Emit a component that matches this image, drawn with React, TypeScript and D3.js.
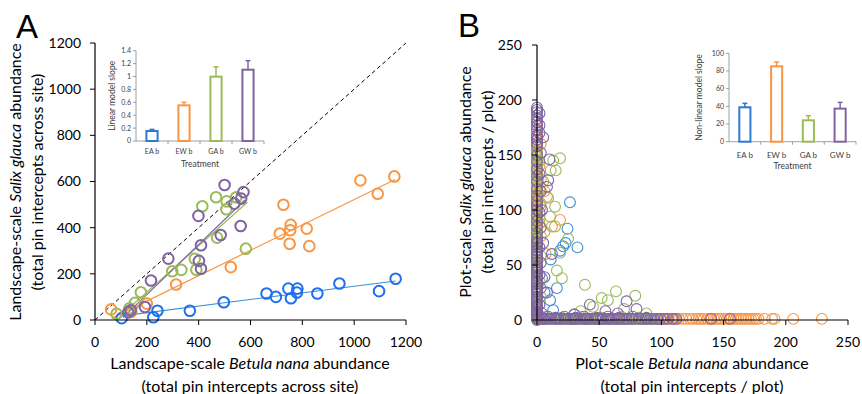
import React from 'react';
import * as d3 from 'd3';

const FONT = "Lato, 'Open Sans', sans-serif";

// colours per treatment
const COLORS: Record<string, string> = { EA: '#1f6fef', EW: '#f79646', GA: '#9bbb59', GW: '#8064a2' };
const COLORS_B: Record<string, string> = { EA: '#3d8fd6', EW: '#f79646', GA: '#9bbb59', GW: '#8064a2' };

const treatments = ['EA b', 'EW b', 'GA b', 'GW b'];

// ---- panel A: landscape scale (Betula, Salix) ----
const eaA = [[103, 8], [225, 12], [241, 40], [366, 40], [497, 77], [662, 115], [698, 100], [746, 136], [756, 94], [781, 136], [779, 119], [858, 115], [943, 158], [1096, 125], [1160, 179]];
const ewA = [[62, 46], [140, 36], [200, 71], [313, 154], [524, 229], [713, 374], [727, 499], [753, 389], [755, 412], [751, 330], [817, 396], [827, 320], [1024, 605], [1091, 547], [1155, 622]];
const gaA = [[83, 27], [133, 51], [154, 74], [177, 120], [298, 211], [333, 217], [385, 265], [391, 218], [414, 493], [467, 532], [471, 357], [508, 514], [507, 480], [545, 532], [582, 309]];
const gwA = [[128, 33], [138, 42], [193, 56], [216, 171], [283, 266], [399, 451], [401, 256], [409, 222], [409, 324], [485, 368], [500, 585], [538, 504], [564, 526], [562, 407], [573, 554]];

// fitted lines (start, end)
const eaFit = [[96, 17], [1160, 169]];
const ewFit = [[64, 7], [1158, 609]];
const gaFit = [[95, 15], [588, 510]];
const gwFit = [[108, 10], [578, 520]];

const aTicks = [0, 200, 400, 600, 800, 1000, 1200];

// inset A: linear model slope
const linSlope = [0.155, 0.553, 0.997, 1.105];
const linErr = [0.025, 0.047, 0.153, 0.14];
const linTicks = ['0', '0.2', '0.4', '0.6', '0.8', '1', '1.2', '1.4'];

// ---- panel B: plot scale ----
// points sitting on the y axis (x = 0): Salix values
const eaColB = [70, 62, 48, 41, 34, 27, 21, 12, 5, 2];
const ewColB = [180, 176, 172, 168, 163, 160, 154, 148, 145, 143, 139, 136, 134, 131, 129, 126, 124, 121, 119, 117, 115, 112, 110, 107, 105, 102, 99, 96, 94, 92, 90, 88, 86, 84, 82, 79, 77, 74, 71, 67, 64, 60, 57, 53, 49, 45, 41, 37, 33, 29, 25, 21, 17, 13, 10, 7, 4];
const gaColB = [153, 151, 149, 146, 144, 141, 138, 134, 131, 128, 125, 121, 117, 113, 109, 105, 101, 97, 94, 90, 86, 83, 80, 77, 75, 72, 70, 67, 64, 60, 57, 53, 50, 47, 44, 40, 37, 33, 30, 26, 23, 20, 17, 14, 11, 8, 6, 3, 1];
const gwColB = [193, 191, 189, 186, 183, 180, 177, 173, 168, 166, 164, 161, 158, 150, 144, 137, 131, 126, 119, 113, 108, 104, 100, 95, 90, 85, 79, 74, 71, 69, 66, 63, 60, 58, 55, 52, 49, 47, 45, 43, 40, 38, 35, 33, 30, 28, 26, 24, 21, 19, 17, 15, 13, 11, 9, 7, 5, 3, 1, 0];
// just right of the y axis: [Betula, Salix]
const gwNearB = [[2, 188], [2, 170], [3, 152], [2, 133], [3, 117], [2, 98], [3, 84], [2, 66], [3, 52], [2, 41], [3, 29], [2, 14], [4, 6]];
const ewNearB = [[2, 140], [3, 128], [2, 118], [3, 103], [2, 92], [3, 76]];
const gaNearB = [[2, 144], [3, 106], [2, 88], [3, 58], [2, 35], [3, 21]];

// points sitting on the x axis (y = 0): Betula values
const eaRowB = [8, 19, 27, 39, 52, 64, 77, 86, 91, 97, 103, 110];
const ewRowB = [5, 15, 33, 47, 71, 82, 88, 93, 96, 100, 103, 106, 108, 111, 114, 117, 120, 123, 125, 128, 130, 132, 134, 137, 139, 142, 144, 146, 148, 151, 153, 156, 158, 160, 162, 164, 166, 168, 170, 172, 174, 176, 178, 183, 189, 191, 206, 229];
const gaRowB = [2, 6, 11, 15, 18, 22, 24, 28, 31, 34, 37, 41, 44, 47, 50, 53, 56, 59, 61, 64, 67, 70, 73, 76, 79, 83, 86, 89, 92, 96];
const gwRowB = [1, 3, 5, 6, 8, 10, 12, 14, 16, 17, 19, 21, 23, 25, 27, 29, 30, 32, 34, 36, 38, 40, 41, 43, 45, 47, 49, 51, 53, 55, 57, 58, 60, 62, 64, 66, 68, 70, 72, 74, 76, 79, 82, 84, 87, 89, 92, 94, 97, 99, 102, 105, 109, 112, 140, 155];
// just above the x axis: [Betula, Salix]
const gwLowB = [[4, 2], [9, 3], [15, 2], [22, 3], [31, 2], [38, 3], [48, 2], [57, 3], [66, 2], [77, 3], [88, 2]];
const gaLowB = [[7, 3], [20, 2], [35, 3], [52, 2], [68, 3], [82, 2]];

// off-axis points
const eaScatB = [[26.5, 107], [24.5, 83], [32.5, 66], [21, 67], [23, 70], [18.5, 63], [11, 55], [16, 29], [10.5, 18], [13, 9], [4, 38], [6, 25], [30, 5]];
const ewScatB = [[18.5, 91], [9, 111], [12, 85], [3, 160], [6, 117], [7, 60]];
const gaScatB = [[13, 145], [18.5, 147], [11, 136], [15, 136], [5, 126], [14.5, 103], [10.5, 94], [14.5, 85], [25, 74], [18.5, 61], [16, 45], [20, 38], [38.5, 32], [63.5, 26], [52, 20], [79, 22], [45, 12], [57, 18], [70, 10], [35, 8], [88, 6], [8, 112], [6, 80]];
const gwScatB = [[2, 177], [5, 166], [10, 146], [8, 121], [5, 70], [6, 39], [72, 17], [80, 10], [42.5, 14], [9, 127], [4, 100], [55, 8], [65, 6], [30, 5], [12, 60], [8, 25]];

const bTicks = [0, 50, 100, 150, 200, 250];

// inset B: non-linear model slope
const nlSlope = [38.9, 85.3, 24.2, 37.4];
const nlErr = [4.5, 4.9, 5.2, 7.1];
const nlTicks = [0, 20, 40, 60, 80, 100];

const keys = ['EA', 'EW', 'GA', 'GW'];

function Inset({ x0, x1, y0, y1, max, values, errors, ticks, label, palette, catSize, labelY, titleY, labelX }: any) {
  const x = d3.scaleBand().domain(treatments).range([x0, x1]).paddingInner(0.65).paddingOuter(0.325);
  const y = d3.scaleLinear().domain([0, max]).range([y0, y1]);
  return (
    <g fontFamily={FONT} fill="#404040">
      <line x1={x0} x2={x0} y1={y0} y2={y1} stroke="#888" strokeWidth={0.8} />
      <line x1={x0} x2={x1} y1={y0} y2={y0} stroke="#888" strokeWidth={0.8} />
      {ticks.map((t: any) => (
        <g key={t}>
          <line x1={x0 - 3} x2={x0} y1={y(+t)} y2={y(+t)} stroke="#888" strokeWidth={0.8} />
          <text x={x0 - 5} y={y(+t)} dy="0.35em" textAnchor="end" fontSize={7}>{t}</text>
        </g>
      ))}
      {treatments.map((t, i) => (
        <line key={t} x1={x0 + (x.step() * (i + 1))} x2={x0 + (x.step() * (i + 1))} y1={y0} y2={y0 + 3} stroke="#888" strokeWidth={0.8} />
      ))}
      {treatments.map((t, i) => {
        const cx = (x(t) as number) + x.bandwidth() / 2;
        const c = palette[keys[i]];
        return (
          <g key={t}>
            <line x1={cx} x2={cx} y1={y(values[i])} y2={y(values[i] + errors[i])} stroke={c} strokeWidth={1.5} />
            <line x1={cx - 2.5} x2={cx + 2.5} y1={y(values[i] + errors[i])} y2={y(values[i] + errors[i])} stroke={c} strokeWidth={1.5} />
            <rect x={x(t)} y={y(values[i])} width={x.bandwidth()} height={y0 - y(values[i])} fill="#fff" stroke={c} strokeWidth={2} />
            <text x={cx} y={labelY} dy="0.35em" textAnchor="middle" fontSize={catSize}>{t}</text>
          </g>
        );
      })}
      <text x={(x0 + x1) / 2} y={titleY} dy="0.35em" textAnchor="middle" fontSize={8.5}>Treatment</text>
      <text transform={`translate(${labelX},${(y0 + y1) / 2}) rotate(-90)`} dy="0.35em" textAnchor="middle" fontSize={8.5}>{label}</text>
    </g>
  );
}

export default function App() {
  // panel A scales
  const xA = d3.scaleLinear().domain([0, 1200]).range([95, 406]);
  const yA = d3.scaleLinear().domain([0, 1200]).range([320, 43]);
  // panel B scales
  const xB = d3.scaleLinear().domain([0, 250]).range([537, 848]);
  const yB = d3.scaleLinear().domain([0, 250]).range([320, 45]);

  const seriesA = [
    { k: 'EA', pts: eaA, fit: eaFit, lineColor: '#3a8fd0' },
    { k: 'EW', pts: ewA, fit: ewFit, lineColor: COLORS.EW },
    { k: 'GA', pts: gaA, fit: gaFit, lineColor: COLORS.GA },
    { k: 'GW', pts: gwA, fit: gwFit, lineColor: COLORS.GW },
  ];
  const seriesB = [
    { k: 'EA', col: eaColB, row: eaRowB, scat: eaScatB },
    { k: 'EW', col: ewColB, row: ewRowB, scat: [...ewScatB, ...ewNearB] },
    { k: 'GA', col: gaColB, row: gaRowB, scat: [...gaScatB, ...gaNearB, ...gaLowB] },
    { k: 'GW', col: gwColB, row: gwRowB, scat: [...gwScatB, ...gwNearB, ...gwLowB] },
  ];
  const line = d3.line<number[]>().x(d => xA(d[0])).y(d => yA(d[1]));

  return (
    <svg width={862} height={394} style={{ display: 'block', position: 'absolute', left: 0, top: 0, background: '#fff' }} fontFamily={FONT}>
      {/* ---------- Panel A ---------- */}
      <text x={16} y={38} fontSize={33} fontFamily="'Liberation Sans', Arial, sans-serif" fill="#000">A</text>
      <line x1={xA(0)} y1={yA(0)} x2={xA(1200)} y2={yA(1200)} stroke="#000" strokeWidth={1} strokeDasharray="4,3" />
      {seriesA.map(s => (
        <path key={s.k} d={line(s.fit) || ''} stroke={s.lineColor} strokeWidth={1.2} fill="none" />
      ))}
      {seriesA.map(s => (
        <g key={s.k + 'p'}>
          {s.pts.map((p, i) => (
            <circle key={i} cx={xA(p[0])} cy={yA(p[1])} r={5.3} fill="none" stroke={COLORS[s.k]} strokeWidth={2} />
          ))}
        </g>
      ))}
      <line x1={xA(0)} x2={xA(1200)} y1={yA(0)} y2={yA(0)} stroke="#000" strokeWidth={1.2} />
      <line x1={xA(0)} x2={xA(0)} y1={yA(0)} y2={yA(1200)} stroke="#000" strokeWidth={1.2} />
      {aTicks.map(t => (
        <g key={'ax' + t}>
          <line x1={xA(t)} x2={xA(t)} y1={320} y2={325} stroke="#000" />
          <text x={xA(t)} y={342} dy="0.35em" textAnchor="middle" fontSize={14} fill="#000">{t}</text>
          <line x1={90} x2={95} y1={yA(t)} y2={yA(t)} stroke="#000" />
          <text x={81} y={yA(t)} dy="0.35em" textAnchor="end" fontSize={14} fill="#000">{t}</text>
        </g>
      ))}
      <text x={250} y={363} dy="0.35em" textAnchor="middle" fontSize={16} fill="#000">
        Landscape-scale <tspan fontStyle="italic">Betula nana</tspan> abundance
      </text>
      <text x={250} y={386} dy="0.35em" textAnchor="middle" fontSize={16} fill="#000">(total pin intercepts across site)</text>
      <text transform="translate(15,182) rotate(-90)" dy="0.35em" textAnchor="middle" fontSize={16} fill="#000">
        Landscape-scale <tspan fontStyle="italic">Salix glauca</tspan> abundance
      </text>
      <text transform="translate(37,182) rotate(-90)" dy="0.35em" textAnchor="middle" fontSize={16} fill="#000">(total pin intercepts across site)</text>

      <Inset x0={136} x1={264} y0={141} y1={50.7} max={1.4} values={linSlope} errors={linErr} ticks={linTicks}
        label="Linear model slope" palette={{ ...COLORS, EA: '#2e7bcf' }} catSize={7} labelY={152} titleY={164} labelX={112} />

      {/* ---------- Panel B ---------- */}
      <text x={458} y={37} fontSize={33} fontFamily="'Liberation Sans', Arial, sans-serif" fill="#000">B</text>
      {seriesB.map(s => (
        <g key={s.k + 'b'} stroke={COLORS_B[s.k]} fill="none" strokeWidth={1.1}>
          {s.scat.map((p, i) => <circle key={'s' + i} cx={xB(p[0])} cy={yB(p[1])} r={5.4} />)}
          {s.row.map((v, i) => <circle key={'r' + i} cx={xB(v)} cy={yB(1)} r={5.4} />)}
          {s.col.map((v, i) => <circle key={'c' + i} cx={xB(0)} cy={yB(v)} r={5.4} />)}
        </g>
      ))}
      <line x1={xB(0)} x2={xB(250)} y1={yB(0)} y2={yB(0)} stroke="#000" strokeWidth={1.2} />
      <line x1={xB(0)} x2={xB(0)} y1={yB(0)} y2={yB(250)} stroke="#000" strokeWidth={1.2} />
      {bTicks.map(t => (
        <g key={'bx' + t}>
          <line x1={xB(t)} x2={xB(t)} y1={320} y2={325} stroke="#000" />
          <text x={xB(t)} y={342} dy="0.35em" textAnchor="middle" fontSize={14} fill="#000">{t}</text>
          <line x1={532} x2={537} y1={yB(t)} y2={yB(t)} stroke="#000" />
          <text x={522} y={yB(t)} dy="0.35em" textAnchor="end" fontSize={14} fill="#000">{t}</text>
        </g>
      ))}
      <text x={692} y={363} dy="0.35em" textAnchor="middle" fontSize={16} fill="#000">
        Plot-scale <tspan fontStyle="italic">Betula nana</tspan> abundance
      </text>
      <text x={692} y={386} dy="0.35em" textAnchor="middle" fontSize={16} fill="#000">(total pin intercepts / plot)</text>
      <text transform="translate(465,182) rotate(-90)" dy="0.35em" textAnchor="middle" fontSize={16} fill="#000">
        Plot-scale <tspan fontStyle="italic">Salix glauca</tspan> abundance
      </text>
      <text transform="translate(487,182) rotate(-90)" dy="0.35em" textAnchor="middle" fontSize={16} fill="#000">(total pin intercepts / plot)</text>

      <Inset x0={729} x1={856} y0={141.7} y1={53.3} max={100} values={nlSlope} errors={nlErr} ticks={nlTicks}
        label="Non-linear model slope" palette={{ ...COLORS, EA: '#2e7bcf' }} catSize={8} labelY={155} titleY={166} labelX={699} />
    </svg>
  );
}
